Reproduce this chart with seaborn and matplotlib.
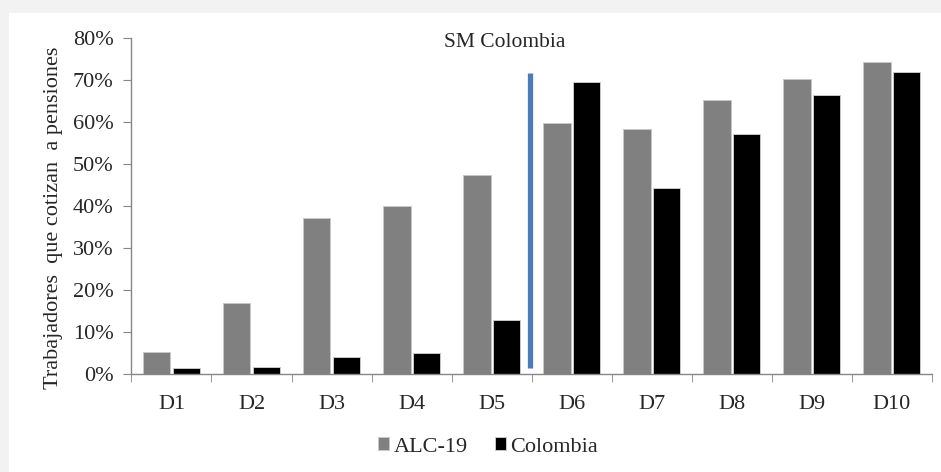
import pandas as pd
import matplotlib.pyplot as plt
import seaborn as sns
from matplotlib.patches import Rectangle

# -----------------------------
# Data (percent of workers contributing to pensions, by decile)
# -----------------------------
deciles = ["D1", "D2", "D3", "D4", "D5", "D6", "D7", "D8", "D9", "D10"]
alc19 = [5.2, 16.9, 37.1, 40.0, 47.4, 59.7, 58.4, 65.3, 70.3, 74.2]
colombia = [1.4, 1.7, 4.0, 5.0, 12.8, 69.6, 44.4, 57.1, 66.4, 71.9]
series_names = ["ALC-19", "Colombia"]
yticks = [0, 10, 20, 30, 40, 50, 60, 70, 80]

# minimum wage marker (between D5 and D6)
sm_x = 4.48
sm_range = [1.4, 71.7]
sm_label = "SM Colombia"

df = pd.DataFrame({
    "decil": deciles * 2,
    "valor": alc19 + colombia,
    "serie": [series_names[0]] * len(deciles) + [series_names[1]] * len(deciles),
})

# -----------------------------
# Plot
# -----------------------------
sns.set_style("white")
plt.rcParams["font.family"] = ["Liberation Serif", "DejaVu Serif"]

fig = plt.figure(figsize=(9.41, 4.72), dpi=100, facecolor="#f2f2f2")
bg = Rectangle((9 / 941, 0), 1, 1 - 13 / 472, transform=fig.transFigure,
               facecolor="white", edgecolor="none", zorder=-10)
fig.add_artist(bg)
ax = fig.add_axes([0.1397, 0.207, 0.8504, 0.7125])
ax.set_zorder(1)
ax.set_facecolor("none")

sns.barplot(data=df, x="decil", y="valor", hue="serie",
            palette=["#808080", "#000000"], width=0.74, gap=0.07,
            edgecolor="#c8c8c8", linewidth=0.7, ax=ax)

ax.vlines(sm_x, sm_range[0], sm_range[1], color="#4a7ebb", linewidth=3.8, zorder=3)
ax.text(4.17, 78.9, sm_label, ha="center", va="center", fontsize=15.5)

ax.set_xlim(-0.5, len(deciles) - 0.5)
ax.set_ylim(0, 80)
ax.set_yticks(yticks)
ax.set_yticklabels([f"{t}%" for t in yticks])
ax.set_xlabel("")
ax.set_ylabel("Trabajadores  que cotizan  a pensiones", fontsize=16)
ax.yaxis.set_label_coords(-0.086, 0.465)

for side in ["top", "right"]:
    ax.spines[side].set_visible(False)
for side in ["left", "bottom"]:
    ax.spines[side].set_color("#868686")
    ax.spines[side].set_linewidth(1)

ax.set_xticks([i + 0.5 for i in range(-1, len(deciles))], minor=True)
ax.tick_params(axis="x", which="major", length=0, labelsize=16, pad=15)
ax.tick_params(axis="x", which="minor", length=6, direction="out", color="#868686", bottom=True)
ax.tick_params(axis="y", length=6, direction="out", color="#868686", labelsize=16, pad=7, left=True)

handles, labels = ax.get_legend_handles_labels()
ax.legend(handles, labels, loc="center", bbox_to_anchor=(488 / 941, 1 - 447 / 472),
          bbox_transform=fig.transFigure, ncol=2, frameon=False, fontsize=16,
          handlelength=0.5, handleheight=0.5, handletextpad=0.2, columnspacing=1.2)

plt.savefig("out.png", dpi=100, facecolor=fig.get_facecolor())
